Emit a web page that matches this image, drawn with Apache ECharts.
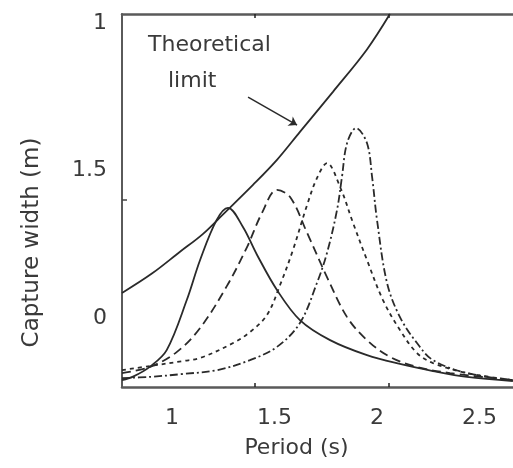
<!DOCTYPE html>
<html>
<head>
<meta charset="utf-8">
<script src="https://cdn.jsdelivr.net/npm/echarts@6/dist/echarts.min.js"></script>
<style>
  html, body { margin: 0; padding: 0; background: #fff; }
  #chart { width: 513px; height: 468px; }
</style>
</head>
<body>
<div id="chart"></div>
<script>
// data: [period (s), capture width]
const theoreticalLimit = [
    [0.756, 0.085], [0.900, 0.150], [1.039, 0.225], [1.150, 0.285], [1.249, 0.352],
    [1.395, 0.452], [1.512, 0.537], [1.624, 0.632], [1.785, 0.768], [1.951, 0.912],
    [2.063, 1.032]
]
const solidCurve = [
    [0.756, -0.211], [0.810, -0.199], [0.893, -0.165], [0.974, -0.109], [1.072, 0.061],
    [1.137, 0.197], [1.218, 0.333], [1.273, 0.374], [1.346, 0.309], [1.415, 0.214],
    [1.512, 0.095], [1.624, -0.007], [1.771, -0.075], [1.951, -0.126], [2.112, -0.156],
    [2.273, -0.180], [2.439, -0.200], [2.663, -0.214]
]
const longDashCurve = [
    [0.756, -0.187], [0.893, -0.166], [1.024, -0.115], [1.137, -0.034], [1.268, 0.109],
    [1.366, 0.241], [1.439, 0.357], [1.512, 0.435], [1.576, 0.411], [1.659, 0.289],
    [1.756, 0.139], [1.854, 0.003], [1.951, -0.075], [2.063, -0.132], [2.195, -0.166],
    [2.356, -0.187], [2.663, -0.211]
]
const shortDashCurve = [
    [0.756, -0.177], [0.893, -0.163], [1.054, -0.146], [1.137, -0.136], [1.298, -0.085],
    [1.380, -0.048], [1.463, 0.010], [1.527, 0.112], [1.590, 0.231], [1.659, 0.384],
    [1.707, 0.475], [1.756, 0.526], [1.820, 0.445], [1.883, 0.323], [1.951, 0.197],
    [2.029, 0.061], [2.112, -0.041], [2.195, -0.119], [2.273, -0.153], [2.439, -0.187],
    [2.663, -0.211]
]
const dashDotCurve = [
    [0.756, -0.204], [0.893, -0.200], [1.054, -0.190], [1.220, -0.177], [1.380, -0.143],
    [1.512, -0.098], [1.624, -0.017], [1.707, 0.119], [1.756, 0.221], [1.805, 0.367],
    [1.829, 0.479], [1.854, 0.594], [1.898, 0.645], [1.951, 0.594], [1.976, 0.479],
    [2.000, 0.333], [2.049, 0.119], [2.112, 0.003], [2.195, -0.085], [2.273, -0.143],
    [2.439, -0.187], [2.663, -0.211]
]
// arrow pointing at the limit curve
const arrowFrom = [1.371, 0.750]
const arrowTo = [1.610, 0.655]

// ticks and labels
const xLabelValues = [1, 1.5, 2, 2.5]
const xTickValues = [1.405, 2.0585]
const yLabelValues = [0, 0.5, 1]
const yLabelTexts = ['0', '1.5', '1']
const yTickValues = [0.4007]

const FONT = 'DejaVu Sans'
const INK = '#2a2a2a'
const AXIS = '#5a5a5a'
const TEXT = '#3a3a3a'

const curve = (data, type) => ({
    type: 'line',
    data: data,
    smooth: 0.35,
    showSymbol: false,
    silent: true,
    lineStyle: { color: INK, width: 1.8, type: type }
})

const xAxisBase = (position) => ({
    type: 'value',
    min: 0.756,
    max: 2.6634,
    position: position,
    splitLine: { show: false },
    axisLine: { onZero: false, lineStyle: { color: AXIS, width: 2.5 } },
    axisTick: { inside: true, length: 4, customValues: xTickValues, lineStyle: { color: '#222', width: 1.5 } }
})

const chart = echarts.init(document.getElementById('chart'))
chart.setOption({
    animation: false,
    backgroundColor: '#fff',
    grid: { left: 122, top: 14, right: 0, bottom: 81 },
    xAxis: [
        Object.assign(xAxisBase('bottom'), {
            axisLabel: {
                customValues: xLabelValues,
                margin: 20,
                color: TEXT,
                fontFamily: FONT,
                fontSize: 22,
                formatter: v => String(v)
            },
            name: 'Period (s)',
            nameLocation: 'middle',
            nameGap: 50,
            nameTextStyle: { color: TEXT, fontFamily: FONT, fontSize: 22, padding: [0, 42, 0, 0] }
        }),
        Object.assign(xAxisBase('top'), { axisLabel: { show: false } })
    ],
    yAxis: {
        type: 'value',
        min: -0.2343,
        max: 1.0323,
        splitLine: { show: false },
        axisLine: { show: true, onZero: false, lineStyle: { color: AXIS, width: 2 } },
        axisTick: { show: true, inside: true, length: 5, customValues: yTickValues, lineStyle: { color: '#444', width: 1.5 } },
        axisLabel: {
            customValues: yLabelValues,
            margin: 15,
            color: TEXT,
            fontFamily: FONT,
            fontSize: 22,
            formatter: v => yLabelTexts[yLabelValues.indexOf(v)]
        },
        name: 'Capture width (m)',
        nameLocation: 'middle',
        nameGap: 78,
        nameRotate: 90,
        nameTextStyle: { color: TEXT, fontFamily: FONT, fontSize: 23, padding: [0, 84, 0, 0] }
    },
    graphic: [
        { type: 'text', left: 148, top: 34, style: { text: 'Theoretical', fill: TEXT, font: '22px "DejaVu Sans"' } },
        { type: 'text', left: 168, top: 70, style: { text: 'limit', fill: TEXT, font: '22px "DejaVu Sans"' } }
    ],
    series: [
        Object.assign(curve(theoreticalLimit, 'solid'), {
            markLine: {
                silent: true,
                symbol: ['none', 'arrow'],
                symbolSize: 8,
                label: { show: false },
                lineStyle: { color: INK, width: 1.5, type: 'solid' },
                data: [[{ coord: arrowFrom }, { coord: arrowTo }]]
            }
        }),
        curve(solidCurve, 'solid'),
        curve(longDashCurve, [9, 5]),
        curve(shortDashCurve, [4, 4]),
        curve(dashDotCurve, [8, 3, 2, 3])
    ]
})
</script>
</body>
</html>
